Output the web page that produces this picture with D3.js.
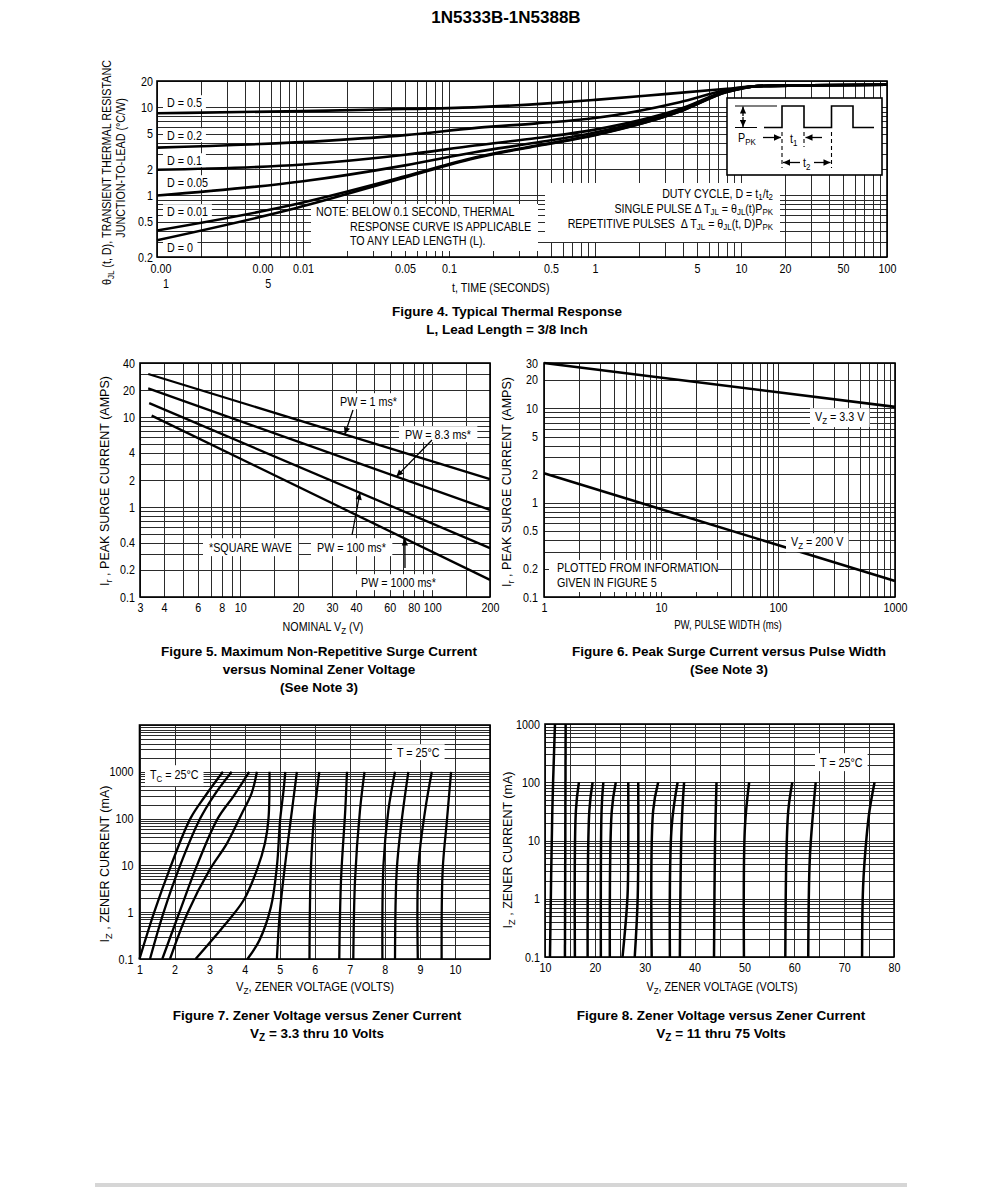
<!DOCTYPE html>
<html>
<head>
<meta charset="utf-8">
<script src="https://cdn.jsdelivr.net/npm/d3@7"></script>
<style>
html,body{margin:0;padding:0;background:#fff;}
svg{display:block;}
text{white-space:pre;}
</style>
</head>
<body>
<svg id="page" width="1000" height="1188"></svg>
<script>
// ===================== DATA =====================
// ---- Figure 4: typical thermal response (t seconds, theta °C/W)
const fig4XTicks = [0.001,0.005,0.01,0.05,0.1,0.5,1,5,10,20,50,100];
const fig4XTickText = ["0.00|1","0.00|5","0.01","0.05","0.1","0.5","1","5","10","20","50","100"];
const fig4YTicks = [0.2,0.5,1,2,5,10,20];
const fig4YTickText = ["0.2","0.5","1","2","5","10","20"];
const fig4Labels = ["D = 0.5","D = 0.2","D = 0.1","D = 0.05","D = 0.01","D = 0"];
const fig4D05  = [[0.001,8.6],[0.01,9.1],[0.05,9.6],[0.16,10.1],[0.5,11.2],[1,12.2],[3,14.2],[8,16.3],[13,17.5],[30,17.9],[100,18.1]];
const fig4D02  = [[0.001,3.5],[0.015,4.2],[0.05,4.85],[0.16,5.9],[0.4,6.6],[1,7.6],[3.8,11.5],[8,15.8],[13,17.5],[30,17.9],[100,18.1]];
const fig4D01  = [[0.001,1.96],[0.01,2.25],[0.05,2.9],[0.15,3.7],[0.4,4.5],[1,5.6],[3.8,9.6],[8,15.4],[13,17.5],[30,17.9],[100,18.1]];
const fig4D005 = [[0.001,1.0],[0.01,1.45],[0.05,2.2],[0.15,3.1],[0.4,4.0],[1,5.2],[3.8,9.3],[8,15.2],[13,17.5],[30,17.9],[100,18.1]];
const fig4D001 = [[0.001,0.40],[0.009,0.80],[0.05,1.65],[0.15,2.7],[0.4,3.7],[1,4.9],[3.8,9.0],[8,15.0],[13,17.5],[30,17.9],[100,18.1]];
const fig4D0   = [[0.001,0.31],[0.009,0.72],[0.05,1.6],[0.15,2.65],[0.4,3.65],[1,4.85],[3.8,9.0],[8,15.0],[13,17.5],[30,17.9],[100,18.1]];

// ---- Figure 5: max non-repetitive surge current vs nominal Vz
const fig5XTicks = [3,4,6,8,10,20,30,40,60,80,100,200];
const fig5XGrid = [3,4,5,6,7,8,9,10,15,20,30,40,50,60,70,80,90,100,150,200];
const fig5YTicks = [0.1,0.2,0.4,1,2,4,10,20,40];
const fig5PW1    = [[3.31,30.2],[200,2.05]];
const fig5PW8_3  = [[3.31,20.9],[200,0.93]];
const fig5PW100  = [[3.35,14.3],[200,0.35]];
const fig5PW1000 = [[3.45,10.4],[200,0.155]];
const fig5Labels = ["PW = 1 ms*","PW = 8.3 ms*","PW = 100 ms*","PW = 1000 ms*"];

// ---- Figure 6: peak surge current vs pulse width
const fig6XTicks = [1,10,100,1000];
const fig6YTicks = [0.1,0.2,0.5,1,2,5,10,20,30];
const fig6Vz3V3  = [[1,30],[1000,10.3]];
const fig6Vz200V = [[1,2.04],[1000,0.148]];

// ---- Figure 7: zener voltage vs zener current, 3.3 - 10 V
const fig7XTicks = [1,2,3,4,5,6,7,8,9,10];
const fig7YTicks = [0.1,1,10,100,1000];
const fig7Curves = [
  [[1.0,0.1],[1.42,1],[1.9,10],[2.45,100],[2.87,300],[3.38,1000]],
  [[1.3,0.1],[1.69,1],[2.16,10],[2.73,100],[3.11,300],[3.63,1000]],
  [[1.65,0.1],[2.14,1],[2.64,10],[3.23,100],[3.68,300],[4.13,1000]],
  [[1.87,0.1],[2.38,1],[3.0,8],[3.5,30],[3.9,120],[4.2,350],[4.35,1000]],
  [[2.6,0.1],[3.4,0.5],[3.97,1.8],[4.35,8],[4.58,30],[4.68,100],[4.71,1000]],
  [[4.08,0.1],[4.42,0.25],[4.75,1.3],[4.92,9.5],[5.01,90],[5.11,400],[5.16,1000]],
  [[4.92,0.1],[5.01,1.1],[5.2,20],[5.35,150],[5.49,1000]],
  [[5.85,0.1],[5.88,5],[5.97,90],[6.13,1000]],
  [[6.70,0.1],[6.75,5],[6.87,150],[6.92,1000]],
  [[7.10,0.1],[7.15,5],[7.29,150],[7.42,1000]],
  [[7.93,0.1],[7.96,10],[8.10,150],[8.29,1000]],
  [[8.29,0.1],[8.34,8],[8.48,90],[8.67,1000]],
  [[8.94,0.1],[8.96,10],[9.15,150],[9.34,1000]],
  [[9.62,0.1],[9.65,8],[9.77,90],[9.89,1000]]
];

// ---- Figure 8: zener voltage vs zener current, 11 - 75 V
const fig8XTicks = [10,20,30,40,50,60,70,80];
const fig8XGrid = [10,15,20,25,30,35,40,45,50,55,60,65,70,75,80];
const fig8YTicks = [0.1,1,10,100,1000];
const fig8Curves = [
  [[11.0,0.1],[11.47,33],[12.0,1000]],
  [[14.0,0.1],[14.14,1000]],
  [[16.0,0.1],[16.2,33],[16.8,100]],
  [[18.55,0.1],[18.9,33],[19.55,100]],
  [[21.2,0.1],[21.35,33],[21.7,100]],
  [[23.0,0.1],[23.4,33],[24.2,100]],
  [[25.55,0.1],[26.55,1.1],[26.7,9],[26.7,100]],
  [[28.0,0.1],[28.6,1.1],[28.7,100]],
  [[31.4,0.1],[31.7,33],[32.7,100]],
  [[35.05,0.1],[35.4,17],[36.6,100]],
  [[37.05,0.1],[37.4,17],[37.9,100]],
  [[43.9,0.1],[44.1,9],[44.4,100]],
  [[49.9,0.1],[50.1,17],[50.95,100]],
  [[58.2,0.1],[58.4,4.6],[58.8,33],[59.6,100]],
  [[62.8,0.1],[63.1,4.6],[63.8,33],[64.3,100]],
  [[73.6,0.1],[73.8,1.6],[74.5,11.5],[75.1,33],[76.1,100]]
];

// ===================== HELPERS =====================
const FN = '"Liberation Sans",Arial,Helvetica,sans-serif';
const FB = '"Liberation Sans",Arial,Helvetica,sans-serif';
const CF = 0.86; // horizontal condensing of chart lettering
const svg = d3.select('#page');
svg.append('rect').attr('width',1000).attr('height',1188).attr('fill','#fff');

const defs = svg.append('defs');
defs.append('marker').attr('id','ah').attr('viewBox','0 0 10 10').attr('refX',10).attr('refY',5)
  .attr('markerWidth',9).attr('markerHeight',7).attr('markerUnits','userSpaceOnUse')
  .attr('orient','auto-start-reverse')
  .append('path').attr('d','M0,0.5 L10,5 L0,9.5 z').attr('fill','#000');

function squeezeT(ax, ay, cf) {
  return `translate(${ax},${ay}) scale(${cf},1) translate(${-ax},${-ay})`;
}

function logMinor(lo, hi) {
  const out = [];
  for (let e = Math.floor(Math.log10(lo)) - 1; e <= Math.ceil(Math.log10(hi)); e++)
    for (let k = 1; k < 10; k++) {
      const v = +(k * Math.pow(10, e)).toPrecision(6);
      if (v >= lo * 0.999 && v <= hi * 1.001) out.push(v);
    }
  return out;
}

function rich(sel, parts, fs, sh) {
  let shifted = false;
  parts.forEach(p => {
    const isSub = Array.isArray(p);
    const t = sel.append('tspan').text(isSub ? p[0] : p);
    if (isSub) { t.attr('font-size', fs * 0.74); if (!shifted) { t.attr('dy', sh); shifted = true; } }
    else if (shifted) { t.attr('dy', -sh); shifted = false; }
  });
  return sel;
}

function txt(g, x, y, parts, opt = {}) {
  const fs = opt.size || 12;
  const t = g.append('text').attr('x', x).attr('y', y)
    .attr('font-family', opt.family || FN).attr('font-size', fs)
    .attr('font-weight', opt.weight || 'normal')
    .attr('text-anchor', opt.anchor || 'start').attr('fill', '#000');
  const cf = opt.cf || (opt.wide ? 1 : CF);
  let tr = opt.rotate ? `rotate(-90,${x},${y})` : '';
  if (cf !== 1) tr += ' ' + squeezeT(x, y, cf);
  if (tr) t.attr('transform', tr.trim());
  rich(t, typeof parts === 'string' ? [parts] : parts, fs, opt.sub == null ? 3 : opt.sub);
  return t;
}

function boxedText(g, x, y, parts, opt = {}) {
  const rect = g.append('rect').attr('fill', '#fff');
  const t = txt(g, x, y, parts, opt);
  const b = t.node().getBBox();
  const cf = opt.cf || CF;
  const px = opt.padX == null ? 3 : opt.padX, py = opt.padY == null ? 1 : opt.padY;
  const bx0 = x + (b.x - x) * cf, bw = b.width * cf;
  rect.attr('x', bx0 - px).attr('y', b.y - py).attr('width', bw + 2 * px).attr('height', b.height + 2 * py);
  return t;
}

function panel(g, x, y, xGrid, yGrid) {
  const [x0, x1] = x.range(), [y1, y0] = y.range();
  const grid = g.append('g').attr('stroke', '#2b2b2b').attr('stroke-width', 1).attr('shape-rendering', 'crispEdges');
  grid.selectAll('line.v').data(xGrid).join('line').attr('class', 'v')
    .attr('x1', d => Math.round(x(d)) + 0.5).attr('x2', d => Math.round(x(d)) + 0.5)
    .attr('y1', y0).attr('y2', y1);
  grid.selectAll('line.h').data(yGrid).join('line').attr('class', 'h')
    .attr('y1', d => Math.round(y(d)) + 0.5).attr('y2', d => Math.round(y(d)) + 0.5)
    .attr('x1', x0).attr('x2', x1);
}

function frame(g, x, y) {
  const [x0, x1] = x.range(), [y1, y0] = y.range();
  g.append('rect').attr('x', x0).attr('y', y0).attr('width', x1 - x0).attr('height', y1 - y0)
    .attr('fill', 'none').attr('stroke', '#000').attr('stroke-width', 1.6);
}

function axes(g, x, y, xt, xtText, yt, ytText, padB, padL, fs) {
  const ab = d3.axisBottom(x).tickValues(xt).tickFormat((d, i) => xtText[i]).tickSize(0).tickPadding(padB);
  const gb = g.append('g').attr('transform', `translate(0,${y.range()[0]})`).call(ab);
  const al = d3.axisLeft(y).tickValues(yt).tickFormat((d, i) => ytText[i]).tickSize(0).tickPadding(padL);
  const gl = g.append('g').attr('transform', `translate(${x.range()[0]},0)`).call(al);
  [gb, gl].forEach(a => {
    a.select('.domain').remove();
    a.attr('font-family', null).attr('font-size', null);
    a.selectAll('text').attr('font-family', FN).attr('font-size', fs || 12.5).attr('fill', '#000');
  });
  gb.selectAll('text').each(function () {
    const s = d3.select(this), v = s.text();
    if (v.indexOf('|') >= 0) {
      const parts = v.split('|'); s.text(null);
      parts.forEach((p, i) => s.append('tspan').attr('x', i ? 10 : 4).attr('dy', i ? '1.2em' : '0.71em').text(p));
    }
    s.attr('transform', `scale(${CF},1)`);
  });
  gl.selectAll('text').each(function () {
    const s = d3.select(this); const ax = +s.attr('x') || 0;
    s.attr('transform', squeezeT(ax, 0, CF));
  });
}

function curves(g, x, y, list, width, curve) {
  const line = d3.line().x(d => x(d[0])).y(d => y(d[1])).curve(curve || d3.curveLinear);
  g.append('g').selectAll('path').data(list).join('path')
    .attr('d', line).attr('fill', 'none').attr('stroke', '#000')
    .attr('stroke-width', width).attr('stroke-linejoin', 'round').attr('stroke-linecap', 'butt');
}

function arrowTo(g, fx, fy, tx, ty) {
  g.append('line').attr('x1', fx).attr('y1', fy).attr('x2', tx).attr('y2', ty)
    .attr('stroke', '#000').attr('stroke-width', 1.3).attr('marker-end', 'url(#ah)');
}

// value of a straight log-log line at a given x value
function onLogLine(seg, xv) {
  const [a, b] = seg;
  const t = (Math.log(xv) - Math.log(a[0])) / (Math.log(b[0]) - Math.log(a[0]));
  return Math.exp(Math.log(a[1]) + t * (Math.log(b[1]) - Math.log(a[1])));
}

function caption(lines, cx, y0) {
  lines.forEach((l, i) => txt(svg, cx, y0 + i * 18, l, { family: FB, weight: 'bold', size: 13.5, anchor: 'middle', wide: true }));
}

// ===================== TITLE =====================
txt(svg, 506, 23, '1N5333B-1N5388B', { family: FB, weight: 'bold', size: 17, anchor: 'middle', wide: true });

// ===================== FIGURE 4 =====================
{
  const g = svg.append('g');
  const x = d3.scaleLog().domain([0.001, 100]).range([157, 887]);
  const y = d3.scaleLog().domain([0.2, 20]).range([257, 81]);
  panel(g, x, y, logMinor(0.001, 100), logMinor(0.2, 20));

  // note box
  g.append('rect').attr('x', 311).attr('y', 204).attr('width', 227).attr('height', 47).attr('fill', '#fff');
  txt(g, 316, 216, 'NOTE: BELOW 0.1 SECOND, THERMAL', { size: 12.5 });
  txt(g, 350, 231, 'RESPONSE CURVE IS APPLICABLE', { size: 12.5 });
  txt(g, 350, 245, 'TO ANY LEAD LENGTH (L).', { size: 12.5 });
  // duty cycle box
  g.append('rect').attr('x', 545).attr('y', 183).attr('width', 235).attr('height', 59).attr('fill', '#fff');
  const dOpt = { size: 12, anchor: 'end', sub: 2, cf: 0.89 };
  txt(g, 773, 198, ['DUTY CYCLE, D = t', ['1'], '/t', ['2']], dOpt);
  txt(g, 773, 213, ['SINGLE PULSE \u0394 T', ['JL'], ' = \u03B8', ['JL'], '(t)P', ['PK']], dOpt);
  txt(g, 773, 228, ['REPETITIVE PULSES  \u0394 T', ['JL'], ' = \u03B8', ['JL'], '(t, D)P', ['PK']], dOpt);

  curves(g, x, y, [fig4D05, fig4D02, fig4D01, fig4D005, fig4D001, fig4D0], 2.6, d3.curveMonotoneX);

  // D labels
  const labelY = [107, 140, 165, 187, 216, 252];
  fig4Labels.forEach((l, i) => boxedText(g, 167, labelY[i], l, { size: 12.5, padX: 4, padY: 0 }));

  // pulse inset
  const ins = g.append('g');
  ins.append('rect').attr('x', 727).attr('y', 98).attr('width', 155).attr('height', 77)
    .attr('fill', '#fff').attr('stroke', '#000').attr('stroke-width', 1.6);
  ins.append('path').attr('d', 'M764,127.5 H782 V106 H804 V127.5 H831.5 V106 H853 V127.5 H874')
    .attr('fill', 'none').attr('stroke', '#000').attr('stroke-width', 1.6);
  ins.append('path').attr('d', 'M735,106 H777 M735,127.5 H757').attr('stroke', '#000').attr('stroke-width', 1.2);
  ins.append('line').attr('x1', 743).attr('y1', 116).attr('x2', 743).attr('y2', 106.5).attr('stroke', '#000').attr('stroke-width', 1.3).attr('marker-end', 'url(#ah)');
  ins.append('line').attr('x1', 743).attr('y1', 117).attr('x2', 743).attr('y2', 127).attr('stroke', '#000').attr('stroke-width', 1.3).attr('marker-end', 'url(#ah)');
  ins.append('path').attr('d', 'M782,132 V168 M804,132 V147 M831.5,132 V168')
    .attr('stroke', '#000').attr('stroke-width', 1.1).attr('stroke-dasharray', '4,3');
  arrowTo(ins, 763, 137.5, 781, 137.5);
  arrowTo(ins, 822, 137.5, 805.5, 137.5);
  arrowTo(ins, 800, 162.5, 783, 162.5);
  arrowTo(ins, 814, 162.5, 830.5, 162.5);
  txt(ins, 738, 142, ['P', ['PK']], { size: 12.5 });
  txt(ins, 790, 143, ['t', ['1']], { size: 12.5 });
  txt(ins, 803, 167, ['t', ['2']], { size: 12.5 });

  frame(g, x, y);
  axes(g, x, y, fig4XTicks, fig4XTickText, fig4YTicks, fig4YTickText, 7, 4, 12.5);
  txt(g, 452, 292, 't, TIME (SECONDS)', { size: 12.5 });
  txt(g, 111, 285, ['\u03B8', ['JL'], ' (t, D), TRANSIENT THERMAL RESISTANC'], { size: 12.5, rotate: true });
  txt(g, 125, 168, 'JUNCTION-TO-LEAD (\u00B0C/W)', { size: 12.5, rotate: true, anchor: 'middle' });
  caption(['Figure 4. Typical Thermal Response', 'L, Lead Length = 3/8 Inch'], 507, 316);
}

// ===================== FIGURE 5 =====================
{
  const g = svg.append('g');
  const x = d3.scaleLog().domain([3, 200]).range([140, 490]);
  const y = d3.scaleLog().domain([0.1, 40]).range([597, 363]);
  panel(g, x, y, fig5XGrid, logMinor(0.1, 40));
  const series = [fig5PW1, fig5PW8_3, fig5PW100, fig5PW1000];
  curves(g, x, y, series, 2.3);

  boxedText(g, 340, 406, fig5Labels[0], { size: 12.5, padX: 5, padY: 1 });
  boxedText(g, 405, 439, fig5Labels[1], { size: 12.5, padX: 6, padY: 1 });
  boxedText(g, 209, 552, '*SQUARE WAVE', { size: 12.5, padX: 6, padY: 2 });
  boxedText(g, 317, 552, fig5Labels[2], { size: 12.5, padX: 6, padY: 2 });
  boxedText(g, 361, 587, fig5Labels[3], { size: 12.5, padX: 6, padY: 1 });
  // arrows pointing at the curves
  const arr = [[0, 35, 353, 410], [1, 65, 432, 440], [2, 42, 352, 535], [3, 72, 405, 568]];
  arr.forEach(([k, xv, fx, fy]) => arrowTo(g, fx, fy, x(xv), y(onLogLine(series[k], xv))));

  frame(g, x, y);
  axes(g, x, y, fig5XTicks, fig5XTicks.map(String), fig5YTicks, fig5YTicks.map(String), 6, 5, 12.5);
  txt(g, 323, 631, ['NOMINAL V', ['Z'], ' (V)'], { size: 12.5, anchor: 'middle' });
  txt(g, 109, 481, ['I', ['r'], ' , PEAK SURGE CURRENT (AMPS)'], { size: 12.5, rotate: true, anchor: 'middle', wide: true });
  caption(['Figure 5. Maximum Non-Repetitive Surge Current', 'versus Nominal Zener Voltage', '(See Note 3)'], 319, 656);
}

// ===================== FIGURE 6 =====================
{
  const g = svg.append('g');
  const x = d3.scaleLog().domain([1, 1000]).range([544, 895]);
  const y = d3.scaleLog().domain([0.1, 30]).range([597, 363]);
  panel(g, x, y, logMinor(1, 1000), logMinor(0.1, 30));
  g.append('rect').attr('x', 549).attr('y', 560).attr('width', 169).attr('height', 32).attr('fill', '#fff');
  txt(g, 557, 572, 'PLOTTED FROM INFORMATION', { size: 12.5 });
  txt(g, 557, 587, 'GIVEN IN FIGURE 5', { size: 12.5 });
  curves(g, x, y, [fig6Vz3V3, fig6Vz200V], 2.6);
  boxedText(g, 815, 421, ['V', ['Z'], ' = 3.3 V'], { size: 12.5, padX: 5, padY: 1 });
  boxedText(g, 791, 546, ['V', ['Z'], ' = 200 V'], { size: 12.5, padX: 5, padY: 1 });
  frame(g, x, y);
  axes(g, x, y, fig6XTicks, fig6XTicks.map(String), fig6YTicks, fig6YTicks.map(String), 6, 6, 12.5);
  txt(g, 728, 629, 'PW, PULSE WIDTH (ms)', { size: 12, anchor: 'middle', cf: 0.8 });
  txt(g, 511, 482, ['I', ['r'], ' , PEAK SURGE CURRENT (AMPS)'], { size: 12.5, rotate: true, anchor: 'middle', wide: true });
  caption(['Figure 6. Peak Surge Current versus Pulse Width', '(See Note 3)'], 729, 656);
}

// ===================== FIGURE 7 =====================
{
  const g = svg.append('g');
  const x = d3.scaleLinear().domain([1, 11]).range([139.5, 490]);
  const y = d3.scaleLog().domain([0.1, 10000]).range([959, 725]);
  panel(g, x, y, d3.range(1, 12), logMinor(0.1, 10000));
  boxedText(g, 150, 779, ['T', ['C'], ' = 25\u00B0C'], { size: 12.5, padX: 5, padY: 2 });
  boxedText(g, 397, 757, 'T = 25\u00B0C', { size: 12.5, padX: 5, padY: 1 });
  curves(g, x, y, fig7Curves, 2.3, d3.curveCatmullRom.alpha(0.5));
  frame(g, x, y);
  axes(g, x, y, fig7XTicks, fig7XTicks.map(String), fig7YTicks, fig7YTicks.map(String), 6, 6, 12.5);
  txt(g, 315, 991, ['V', ['Z'], ', ZENER VOLTAGE (VOLTS)'], { size: 12.5, anchor: 'middle', cf: 0.9 });
  txt(g, 109, 864, ['I', ['Z'], ' , ZENER CURRENT (mA)'], { size: 12.5, rotate: true, anchor: 'middle', wide: true });
  caption(['Figure 7. Zener Voltage versus Zener Current', ['V', ['Z'], ' = 3.3 thru 10 Volts']], 317, 1020);
}

// ===================== FIGURE 8 =====================
{
  const g = svg.append('g');
  const x = d3.scaleLinear().domain([10, 80]).range([545, 894]);
  const y = d3.scaleLog().domain([0.1, 1000]).range([957, 724]);
  panel(g, x, y, fig8XGrid, logMinor(0.1, 1000));
  boxedText(g, 820, 767, 'T = 25\u00B0C', { size: 12.5, padX: 5, padY: 2 });
  curves(g, x, y, fig8Curves, 2.5, d3.curveCatmullRom.alpha(0.5));
  frame(g, x, y);
  axes(g, x, y, fig8XTicks, fig8XTicks.map(String), fig8YTicks, fig8YTicks.map(String), 6, 5, 12.5);
  txt(g, 722, 991, ['V', ['Z'], ', ZENER VOLTAGE (VOLTS)'], { size: 12.5, anchor: 'middle' });
  txt(g, 512, 850, ['I', ['Z'], ' , ZENER CURRENT (mA)'], { size: 12.5, rotate: true, anchor: 'middle', wide: true });
  caption(['Figure 8. Zener Voltage versus Zener Current', ['V', ['Z'], ' = 11 thru 75 Volts']], 721, 1020);
}

// bottom rule
svg.append('rect').attr('x', 95).attr('y', 1183).attr('width', 812).attr('height', 4).attr('fill', '#d6d6d6');
</script>
</body>
</html>
